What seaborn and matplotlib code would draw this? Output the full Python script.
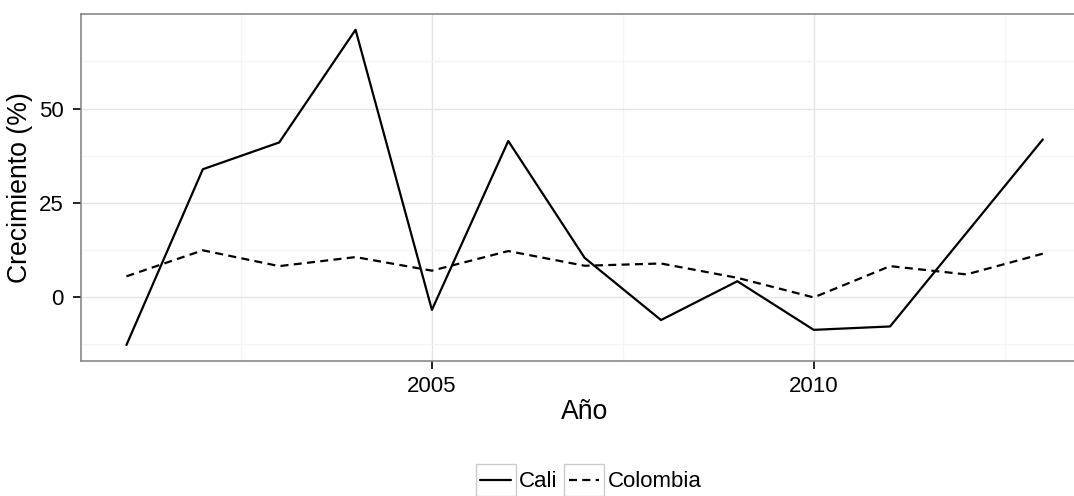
import numpy as np
import pandas as pd
import matplotlib
matplotlib.use('Agg')
import matplotlib.pyplot as plt
import seaborn as sns
from matplotlib.lines import Line2D
from matplotlib.patches import Rectangle
from matplotlib.legend_handler import HandlerLine2D
from matplotlib.ticker import MultipleLocator

# datos
anios = list(range(2001, 2014))
cali = [-12.7, 33.9, 41.0, 70.9, -3.4, 41.4, 10.4, -6.1, 4.2, -8.7, -7.8, 17.0, 41.8]
colombia = [5.5, 12.4, 8.2, 10.6, 7.0, 12.2, 8.3, 8.9, 5.1, -0.1, 8.2, 6.0, 11.5]
series = ['Cali', 'Colombia']
yticks = [0, 25, 50]
yticks_menores = [-12.5, 12.5, 37.5, 62.5]

df = pd.DataFrame({
    'anio': anios * 2,
    'crec': cali + colombia,
    'serie': [series[0]] * len(anios) + [series[1]] * len(anios),
})

sns.set_style('white')
plt.rcParams['font.family'] = ['Liberation Sans', 'DejaVu Sans']
plt.rcParams['text.color'] = 'black'
plt.rcParams['axes.labelcolor'] = 'black'


class BoxedKey(HandlerLine2D):
    # llave de leyenda estilo ggplot: caja gris con la linea adentro
    def create_artists(self, legend, orig_handle, xdescent, ydescent,
                       width, height, fontsize, trans):
        rect = Rectangle((-xdescent, -ydescent), width, height,
                         facecolor='white', edgecolor='#CCCCCC', lw=1.0,
                         transform=trans)
        m = 0.12 * width
        y = -ydescent + height / 2
        line = Line2D([-xdescent + m, -xdescent + width - m], [y, y])
        self.update_prop(line, orig_handle, legend)
        line.set_transform(trans)
        return [rect, line]


fig = plt.figure(figsize=(10.74, 4.96), dpi=100)
# el panel sigue mas alla del borde derecho de la imagen (recortada)
ax = fig.add_axes([0.0751, 0.2728, 0.9385, 0.699])

sns.lineplot(data=df, x='anio', y='crec', style='serie',
             dashes={'Cali': '', 'Colombia': (3.6, 2.4)},
             color='black', linewidth=1.6, legend=False, ax=ax)
ax.margins(x=0.05, y=0.05)

ax.xaxis.set_major_locator(MultipleLocator(5))
ax.xaxis.set_minor_locator(MultipleLocator(2.5))
ax.set_yticks(yticks)
ax.set_yticks(yticks_menores, minor=True)
ax.set_axisbelow(True)
ax.grid(which='major', color='#E5E5E5', lw=1.0)
ax.grid(which='minor', color='#F5F5F5', lw=1.0)
ax.tick_params(which='major', direction='out', length=6, width=1.2,
               color='black', labelsize=16, labelcolor='black', pad=5,
               bottom=True, left=True)
ax.tick_params(axis='y', which='major', pad=6)
ax.tick_params(which='minor', length=0)
for s in ax.spines.values():
    s.set_visible(True)
    s.set_color('#7F7F7F')
    s.set_linewidth(1.1)

ax.set_xlabel('Año', fontsize=19.2, color='black')
ax.set_ylabel('Crecimiento (%)', fontsize=19.2, color='black')
ax.xaxis.set_label_coords(0.5, -0.110)
ax.yaxis.set_label_coords(-0.047, 0.5)

fig.legend(ax.get_lines()[:2], series, loc='center',
           bbox_to_anchor=(0.548, 0.0323), ncol=2, frameon=False,
           fontsize=16, handlelength=1.8, handleheight=1.8,
           handletextpad=0.15, columnspacing=0.3, borderpad=0,
           labelcolor='black', handler_map={Line2D: BoxedKey()})

fig.savefig('out.png', dpi=100)
